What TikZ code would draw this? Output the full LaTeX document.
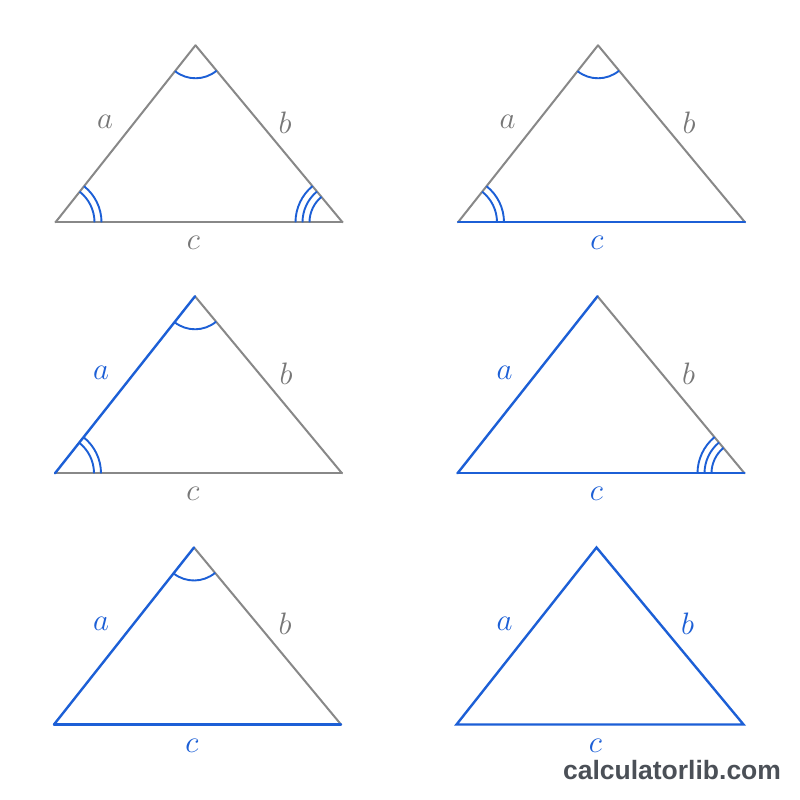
\RequirePackage{fix-cm}
\documentclass[tikz,border=0pt]{standalone}
\usepackage{fontspec}
\newfontfamily\wmfont{Liberation Sans Bold}
\usetikzlibrary{angles,calc}
\definecolor{tblue}{HTML}{1C5FD6}
\definecolor{tgray}{HTML}{888888}
\definecolor{lgray}{HTML}{777777}
\definecolor{wmgray}{HTML}{4B5057}
\tikzset{
  graySide/.style={draw=tgray,line width=2pt,line cap=round},
  blueSide/.style={draw=tblue,line width=2.4pt,line cap=round},
  grayLbl/.style={text=lgray,inner sep=0pt,font=\fontsize{31}{36}\selectfont},
  blueLbl/.style={text=tblue,inner sep=0pt,font=\fontsize{31}{36}\selectfont},
  arcmark/.style={draw=tblue,line width=1.9pt},
}
% \mktri{name}{x}{y}: vertices L (left base), R (right base), T (apex)
\newcommand{\mktri}[3]{%
  \coordinate (#1L) at (#2,#3);
  \coordinate (#1R) at ($(#2,#3)+(287,0)$);
  \coordinate (#1T) at ($(#2,#3)+(140,177)$);
}
\begin{document}
\begin{tikzpicture}[x=1pt,y=1pt]
\useasboundingbox[fill=white] (0,0) rectangle (800,800);
\mktri{A}{55.5}{577.7}
\mktri{B}{458}{577.7}
\mktri{C}{55}{326.7}
\mktri{D}{457.5}{326.7}
\mktri{E}{54}{75.5}
\mktri{F}{456.5}{75.5}
% ---- triangle A : all gray
\draw[graySide] (AL) -- (AT);
\draw[graySide] (AT) -- (AR);
\draw[graySide] (AR) -- (AL);
\pic[arcmark,angle radius=33pt] {angle=AL--AT--AR};
\pic[arcmark,angle radius=39pt] {angle=AR--AL--AT};
\pic[arcmark,angle radius=46pt] {angle=AR--AL--AT};
\pic[arcmark,angle radius=33pt] {angle=AT--AR--AL};
\pic[arcmark,angle radius=40pt] {angle=AT--AR--AL};
\pic[arcmark,angle radius=47pt] {angle=AT--AR--AL};
\node[grayLbl] (Aa) at ($(AL)+(49.5,100)$) {$a$};
\node[grayLbl] (Ab) at ($(AL)+(229.5,100)$) {$b$};
\node[grayLbl] (Ac) at ($(AL)+(138,-21)$) {$c$};
% ---- triangle B : c blue
\draw[graySide] (BL) -- (BT);
\draw[graySide] (BT) -- (BR);
\draw[blueSide] (BR) -- (BL);
\pic[arcmark,angle radius=33pt] {angle=BL--BT--BR};
\pic[arcmark,angle radius=39pt] {angle=BR--BL--BT};
\pic[arcmark,angle radius=46pt] {angle=BR--BL--BT};
\node[grayLbl] (Ba) at ($(BL)+(49.5,100)$) {$a$};
\node[grayLbl] (Bb) at ($(BL)+(231,100)$) {$b$};
\node[blueLbl] (Bc) at ($(BL)+(139,-21)$) {$c$};
% ---- triangle C : a blue
\draw[graySide] (CT) -- (CR);
\draw[graySide] (CR) -- (CL);
\draw[blueSide] (CL) -- (CT);
\pic[arcmark,angle radius=33pt] {angle=CL--CT--CR};
\pic[arcmark,angle radius=39pt] {angle=CR--CL--CT};
\pic[arcmark,angle radius=46pt] {angle=CR--CL--CT};
\node[blueLbl] (Ca) at ($(CL)+(46,100)$) {$a$};
\node[grayLbl] (Cb) at ($(CL)+(231,100)$) {$b$};
\node[grayLbl] (Cc) at ($(CL)+(138,-21)$) {$c$};
% ---- triangle D : a and c blue
\draw[graySide] (DT) -- (DR);
\draw[blueSide] (DR) -- (DL);
\draw[blueSide] (DL) -- (DT);
\pic[arcmark,angle radius=33pt] {angle=DT--DR--DL};
\pic[arcmark,angle radius=40pt] {angle=DT--DR--DL};
\pic[arcmark,angle radius=47pt] {angle=DT--DR--DL};
\node[blueLbl] (Da) at ($(DL)+(47,100)$) {$a$};
\node[grayLbl] (Db) at ($(DL)+(231,100)$) {$b$};
\node[blueLbl] (Dc) at ($(DL)+(139,-21)$) {$c$};
% ---- triangle E : a and c blue
\draw[graySide] (ET) -- (ER);
\draw[blueSide] (ER) -- (EL);
\draw[blueSide] (EL) -- (ET);
\pic[arcmark,angle radius=33pt] {angle=EL--ET--ER};
\node[blueLbl] (Ea) at ($(EL)+(47,101)$) {$a$};
\node[grayLbl] (Eb) at ($(EL)+(231,101)$) {$b$};
\node[blueLbl] (Ec) at ($(EL)+(138,-21)$) {$c$};
% ---- triangle F : all blue
\draw[blueSide] (FL) -- (FT) -- (FR) -- cycle;
\node[blueLbl] (Fa) at ($(FL)+(48,101)$) {$a$};
\node[blueLbl] (Fb) at ($(FL)+(231,101)$) {$b$};
\node[blueLbl] (Fc) at ($(FL)+(139,-21)$) {$c$};
% ---- watermark
\node[anchor=base,text=wmgray,font=\wmfont\fontsize{26.5}{30}\selectfont,inner sep=0pt] (wm) at (672,20) {calculatorlib.com};
\end{tikzpicture}
\end{document}
